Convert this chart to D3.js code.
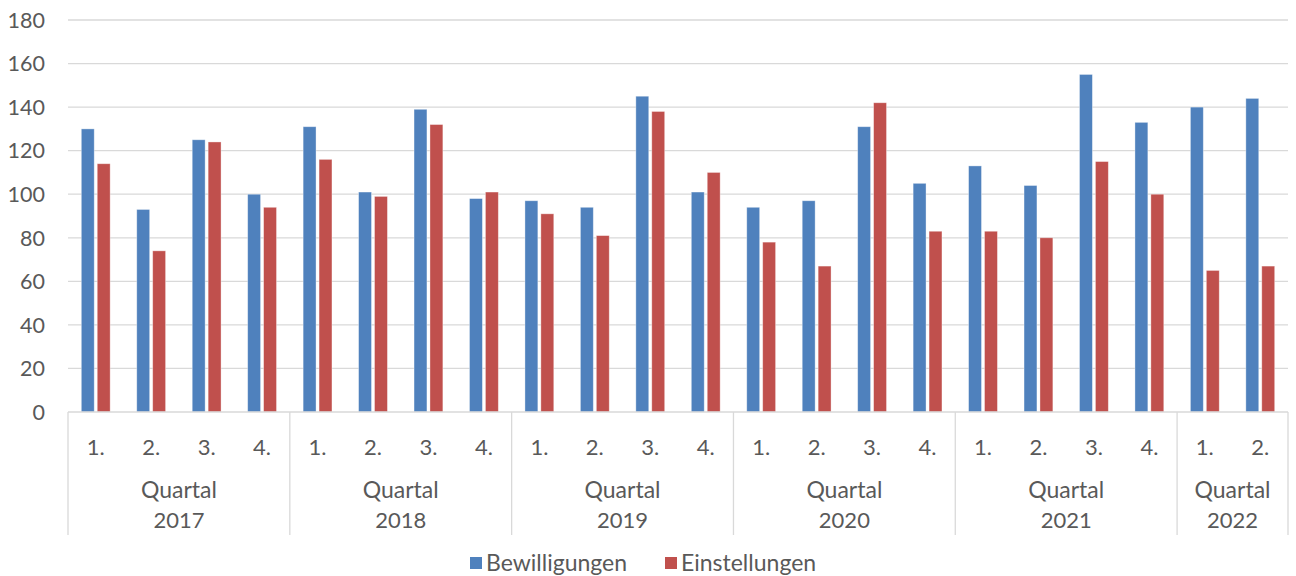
<!DOCTYPE html>
<html>
<head>
<meta charset="utf-8">
<script src="https://cdn.jsdelivr.net/npm/d3@7"></script>
<style>
  body { margin: 0; background: #fff; }
  text { font-family: Lato, "Noto Sans", sans-serif; fill: #595959; }
</style>
</head>
<body>
<div id="chart"></div>
<script>
const years = ["2017", "2018", "2019", "2020", "2021", "2022"];
const quartersPerYear = [4, 4, 4, 4, 4, 2];
const quarterLabels = ["1.", "2.", "3.", "4.", "1.", "2.", "3.", "4.", "1.", "2.", "3.", "4.",
                       "1.", "2.", "3.", "4.", "1.", "2.", "3.", "4.", "1.", "2."];
const bewilligungen = [130, 93, 125, 100, 131, 101, 139, 98, 97, 94, 145, 101,
                       94, 97, 131, 105, 113, 104, 155, 133, 140, 144];
const einstellungen = [114, 74, 124, 94, 116, 99, 132, 101, 91, 81, 138, 110,
                       78, 67, 142, 83, 83, 80, 115, 100, 65, 67];
const seriesNames = ["Bewilligungen", "Einstellungen"];
const yTicks = [0, 20, 40, 60, 80, 100, 120, 140, 160, 180];

const width = 1296, height = 576;
const plotLeft = 68, plotRight = 1288, plotTop = 20, plotBottom = 412;
const colors = { Bewilligungen: "#4f81bd", Einstellungen: "#c0504d" };

const svg = d3.select("#chart").append("svg")
  .attr("width", width)
  .attr("height", height);

const idx = d3.range(quarterLabels.length);

const x = d3.scaleBand()
  .domain(idx)
  .range([plotLeft, plotRight])
  .paddingInner(0.48)
  .paddingOuter(0.24);

const xs = d3.scaleBand()
  .domain(seriesNames)
  .range([0, x.bandwidth()])
  .paddingInner(0.19);

const y = d3.scaleLinear().domain([0, 180]).range([plotBottom, plotTop]);

// gridlines
svg.append("g")
  .selectAll("line")
  .data(yTicks.filter(d => d > 0))
  .join("line")
    .attr("x1", plotLeft).attr("x2", plotRight)
    .attr("y1", d => y(d)).attr("y2", d => y(d))
    .attr("stroke", "#d9d9d9")
    .attr("stroke-width", 1.3);

// y labels
svg.append("g")
  .selectAll("text")
  .data(yTicks)
  .join("text")
    .attr("x", 45)
    .attr("y", d => y(d))
    .attr("dy", "0.36em")
    .attr("text-anchor", "end")
    .style("font-size", "21.5px")
    .text(d => d);

// bars
const rows = idx.map(i => ({ i, Bewilligungen: bewilligungen[i], Einstellungen: einstellungen[i] }));

const groups = svg.append("g")
  .selectAll("g")
  .data(rows)
  .join("g")
    .attr("transform", d => `translate(${x(d.i)},0)`);

groups.selectAll("rect")
  .data(d => seriesNames.map(s => ({ s, v: d[s] })))
  .join("rect")
    .attr("x", d => xs(d.s))
    .attr("width", xs.bandwidth())
    .attr("y", d => y(d.v))
    .attr("height", d => y(0) - y(d.v))
    .attr("fill", d => colors[d.s])
    .attr("stroke", "rgba(255,255,255,0.45)")
    .attr("stroke-width", 0.8);

// x axis line
svg.append("line")
  .attr("x1", plotLeft).attr("x2", plotRight)
  .attr("y1", plotBottom).attr("y2", plotBottom)
  .attr("stroke", "#d9d9d9")
  .attr("stroke-width", 1.3);

// year group separators
const step = x.step();
let start = 0;
const bounds = [0];
quartersPerYear.forEach(n => { start += n; bounds.push(start); });

svg.append("g")
  .selectAll("line")
  .data(bounds)
  .join("line")
    .attr("x1", d => plotLeft + d * step).attr("x2", d => plotLeft + d * step)
    .attr("y1", plotBottom).attr("y2", 535)
    .attr("stroke", "#d9d9d9")
    .attr("stroke-width", 1.3);

// quarter labels
svg.append("g")
  .selectAll("text")
  .data(idx)
  .join("text")
    .attr("x", i => x(i) + x.bandwidth() / 2)
    .attr("y", 447)
    .attr("dy", "0.36em")
    .attr("text-anchor", "middle")
    .style("font-size", "22px")
    .text(i => quarterLabels[i]);

// year labels
const yearG = svg.append("g")
  .selectAll("g")
  .data(years)
  .join("g")
    .attr("transform", (d, k) => `translate(${plotLeft + (bounds[k] + bounds[k + 1]) / 2 * step},0)`);

yearG.append("text")
  .attr("y", 490)
  .attr("dy", "0.36em")
  .attr("text-anchor", "middle")
  .style("font-size", "23px")
  .text("Quartal");

yearG.append("text")
  .attr("y", 520)
  .attr("dy", "0.36em")
  .attr("text-anchor", "middle")
  .style("font-size", "22px")
  .text(d => d);

// legend
const legendX = [470, 665];
const legend = svg.append("g")
  .selectAll("g")
  .data(seriesNames)
  .join("g")
    .attr("transform", (d, k) => `translate(${legendX[k]},563)`);

legend.append("rect")
  .attr("x", 0).attr("y", -6)
  .attr("width", 12).attr("height", 12)
  .attr("fill", d => colors[d]);

legend.append("text")
  .attr("x", 16)
  .attr("dy", "0.36em")
  .style("font-size", "23px")
  .text(d => d);
</script>
</body>
</html>
